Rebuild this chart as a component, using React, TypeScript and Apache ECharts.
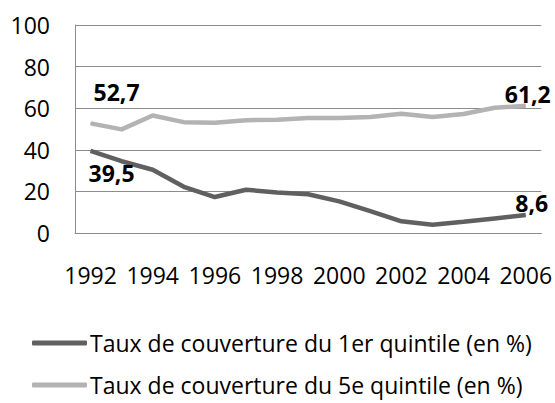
import React, { useEffect, useRef } from "react";
import * as echarts from "echarts";

const years = ["1992","1993","1994","1995","1996","1997","1998","1999","2000","2001","2002","2003","2004","2005","2006"];
const quintile1 = [39.5, 34.5, 30.4, 22.2, 17.3, 20.8, 19.5, 18.6, 15.2, 10.5, 5.6, 4.0, 5.4, 7.0, 8.6];
const quintile5 = [52.7, 49.8, 56.5, 53.3, 53.0, 54.2, 54.5, 55.3, 55.3, 55.8, 57.3, 55.8, 57.2, 60.2, 61.2];
const seriesNames = ["Taux de couverture du 1er quintile (en %)", "Taux de couverture du 5e quintile (en %)"];
const yTicks = { min: 0, max: 100, interval: 20 };

const FONT = "'Open Sans', sans-serif";
const fmt = (v: number) => String(v).replace(".", ",");

function labelled(values: number[], first: any, last: any) {
  return values.map((v, i) => {
    if (i === 0) return { value: v, label: { show: true, ...first } };
    if (i === values.length - 1) return { value: v, label: { show: true, ...last } };
    return v;
  });
}

export default function App() {
  const ref = useRef<HTMLDivElement>(null);
  useEffect(() => {
    if (!ref.current) return;
    const chart = echarts.init(ref.current, undefined, { renderer: "svg" });
    const labelBase = {
      fontFamily: FONT,
      fontSize: 23,
      fontWeight: "bold",
      color: "#000",
      position: "inside",
      formatter: (p: any) => fmt(p.value),
    };
    const legendBase = {
      orient: "vertical",
      left: 27,
      itemWidth: 55,
      itemHeight: 5,
      icon: "roundRect",
      textStyle: { fontFamily: FONT, fontSize: 23, color: "#000", lineHeight: 26, padding: [0, 0, 0, -2] },
    };
    chart.setOption({
      animation: false,
      backgroundColor: "#fff",
      grid: { left: 75, right: 12, top: 25, bottom: 170 },
      legend: [
        { ...legendBase, top: 325, data: [seriesNames[0]] },
        { ...legendBase, top: 367, data: [seriesNames[1]] },
      ],
      xAxis: {
        type: "category",
        data: years,
        boundaryGap: true,
        axisLine: { show: true, lineStyle: { color: "#8c8c8c", width: 1 } },
        axisTick: { show: false },
        axisLabel: { interval: 1, margin: 30, fontFamily: FONT, fontSize: 23, color: "#000" },
      },
      yAxis: {
        type: "value",
        min: yTicks.min,
        max: yTicks.max,
        interval: yTicks.interval,
        axisLine: { show: true, lineStyle: { color: "#8c8c8c", width: 1 } },
        axisTick: { show: false },
        splitLine: { lineStyle: { color: "#8c8c8c", width: 1 } },
        axisLabel: { margin: 25, fontFamily: FONT, fontSize: 23, color: "#000" },
      },
      series: [
        {
          name: seriesNames[0],
          type: "line",
          symbol: "circle",
          symbolSize: 1,
          showSymbol: true,
          color: "#606060",
          itemStyle: { color: "#606060" },
          lineStyle: { color: "#606060", width: 4.5 },
          data: labelled(
            quintile1,
            { ...labelBase, offset: [21, 22] },
            { ...labelBase, offset: [6, -12] }
          ),
        },
        {
          name: seriesNames[1],
          type: "line",
          symbol: "circle",
          symbolSize: 1,
          showSymbol: true,
          color: "#b3b3b3",
          itemStyle: { color: "#b3b3b3" },
          lineStyle: { color: "#b3b3b3", width: 4.5 },
          data: labelled(
            quintile5,
            { ...labelBase, offset: [26, -31] },
            { ...labelBase, offset: [2, -12] }
          ),
        },
      ],
    });
    return () => chart.dispose();
  }, []);
  return <div ref={ref} style={{ position: "fixed", left: 0, top: 0, width: 555, height: 403 }} />;
}
